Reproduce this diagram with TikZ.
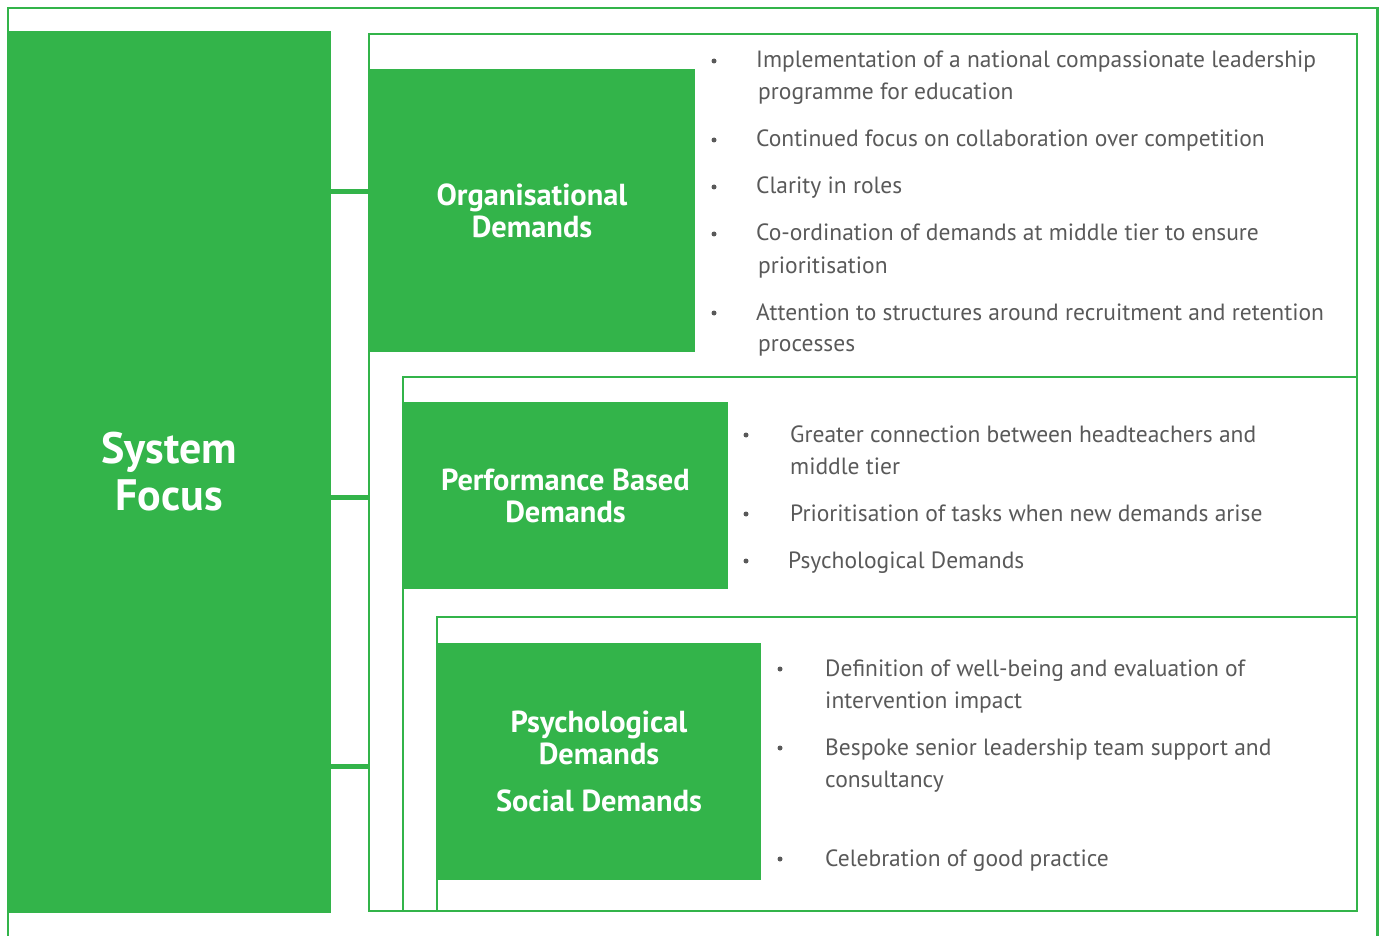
\documentclass[tikz,border=0pt]{standalone}
\usepackage{fontspec}
\setmainfont{PT Sans}
\definecolor{brand}{HTML}{33B44A}
\definecolor{bodytext}{HTML}{595959}
\begin{document}
\begin{tikzpicture}[x=1pt,y=-1pt,
  outerframe/.style={draw=brand, line width=2.5pt},
  frame/.style={draw=brand, line width=2.5pt, inner sep=0pt},
  block/.style={fill=brand, text=white, align=center, inner sep=0pt,
    font=\bfseries\fontsize{30.4}{32}\selectfont},
  link/.style={draw=brand, line width=5pt},
  item/.style={anchor=base west, text=bodytext, inner sep=0pt,
    font=\fontsize{23.5}{32}\selectfont},
  dot/.style={circle, fill=bodytext, inner sep=0pt, minimum size=5pt}]
\useasboundingbox (0,0) rectangle (1385,936);
\clip (0,0) rectangle (1385,936);

% outer frame (runs off the bottom edge)
\draw[outerframe] (7.8,950) -- (7.8,8) -- (1377.7,8) -- (1377.7,950);

% system column
\node[block, minimum width=324pt, minimum height=882pt,
  font=\bfseries\fontsize{44}{47}\selectfont] (sys) at (169,472) {System\\Focus};

% nested frames
\node[frame, minimum width=988pt, minimum height=877pt] (f1) at (863,472.5) {};
\node[frame, minimum width=954pt, minimum height=534pt] (f2) at (880,644) {};
\node[frame, minimum width=920pt, minimum height=294pt] (f3) at (897,764) {};

% demand blocks
\node[block, minimum width=326pt, minimum height=283pt] (org) at (532,210.5)
  {Organisational\\Demands};
\node[block, minimum width=325pt, minimum height=187pt] (perf) at (565.5,495.5)
  {Performance Based\\Demands};
\node[block, minimum width=324pt, minimum height=237pt] (psy) at (599,761.5)
  {Psychological\\Demands\\[15pt]Social Demands};

% links from the system column
\draw[link] (sys.east |- 0,191.5) -- (f1.west |- 0,191.5);
\draw[link] (sys.east |- 0,497) -- (f1.west |- 0,497);
\draw[link] (sys.east |- 0,766) -- (f1.west |- 0,766);

% organisational items
\node[dot] (b11) at (714,61) {};
\node[item] (t11) at (756,68) {Implementation of a national compassionate leadership};
\node[item] (t11b) at (758,100) {programme for education};
\node[dot] (b12) at (714,140) {};
\node[item] (t12) at (756,147) {Continued focus on collaboration over competition};
\node[dot] (b13) at (714,187) {};
\node[item] (t13) at (756,194) {Clarity in roles};
\node[dot] (b14) at (714,234) {};
\node[item] (t14) at (756,241) {Co-ordination of demands at middle tier to ensure};
\node[item] (t14b) at (758,273) {prioritisation};
\node[dot] (b15) at (714,313) {};
\node[item] (t15) at (756,320) {Attention to structures around recruitment and retention};
\node[item] (t15b) at (758,352) {processes};

% performance items
\node[dot] (b21) at (746,435) {};
\node[item] (t21) at (790,442) {Greater connection between headteachers and};
\node[item] (t21b) at (790,474) {middle tier};
\node[dot] (b22) at (746,514) {};
\node[item] (t22) at (790,521) {Prioritisation of tasks when new demands arise};
\node[dot] (b23) at (746,561) {};
\node[item] (t23) at (788,568) {Psychological Demands};

% psychological / social items
\node[dot] (b31) at (780,669) {};
\node[item] (t31) at (825,676) {Definition of well-being and evaluation of};
\node[item] (t31b) at (825,708) {intervention impact};
\node[dot] (b32) at (780,748) {};
\node[item] (t32) at (825,755) {Bespoke senior leadership team support and};
\node[item] (t32b) at (825,787) {consultancy};
\node[dot] (b33) at (780,859) {};
\node[item] (t33) at (825,866) {Celebration of good practice};
\end{tikzpicture}
\end{document}
